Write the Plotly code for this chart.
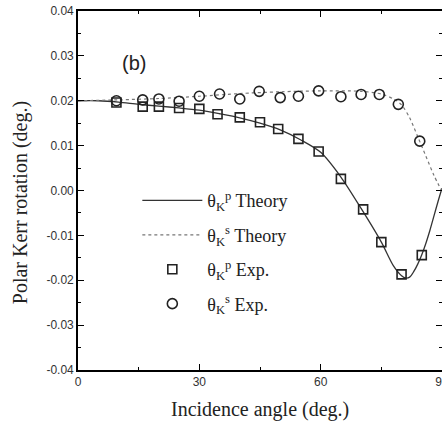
import plotly.graph_objects as go

# Experimental data (incidence angle in deg., Kerr rotation in deg.)
p_exp_angle = [9.5, 16, 20, 25, 30, 34.5, 40, 45, 49.5, 54.5, 59.5, 65, 70.5, 75, 80, 85]
p_exp_rot = [0.0196, 0.0187, 0.0187, 0.0184, 0.0182, 0.0170, 0.0163, 0.0152, 0.0137,
             0.0115, 0.0087, 0.0026, -0.0042, -0.0115, -0.0187, -0.0144]

s_exp_angle = [9.5, 16, 20, 25, 30, 35, 40, 44.8, 50, 54.5, 59.5, 65, 70, 74.5, 79.2, 84.5]
s_exp_rot = [0.0200, 0.0202, 0.0204, 0.0199, 0.0210, 0.0215, 0.0204, 0.0221, 0.0207,
             0.0210, 0.0222, 0.0209, 0.0214, 0.0214, 0.0192, 0.0110]

# Theory curves
p_th_angle = [0, 5, 10, 15, 20, 25, 30, 35, 40, 45, 50, 55, 60, 65, 70, 75, 78, 80, 81, 82, 83, 84, 85, 86, 87, 88, 89, 90]
p_th_rot = [0.0200, 0.0200, 0.0197, 0.0192, 0.0188, 0.0184, 0.0179, 0.0171, 0.0162, 0.0150,
            0.0135, 0.0113, 0.0085, 0.0030, -0.0040, -0.0115, -0.0168, -0.0190, -0.0195, -0.0193,
            -0.0181, -0.0164, -0.0143, -0.0118, -0.0089, -0.0057, -0.0025, 0.0005]

s_th_angle = [0, 10, 20, 30, 40, 50, 60, 70, 75, 78, 80, 82, 84, 86, 88, 90]
s_th_rot = [0.0200, 0.0202, 0.0205, 0.0210, 0.0216, 0.0220, 0.0222, 0.0221, 0.0215, 0.0204,
            0.0191, 0.0162, 0.0120, 0.0077, 0.0034, -0.0002]

x_tick_vals = [0, 30, 60, 90]
x_tick_text = ["0", "30", "60", "90"]
y_tick_vals = [-0.04, -0.03, -0.02, -0.01, 0.00, 0.01, 0.02, 0.03, 0.04]
y_tick_text = ["-0.04", "-0.03", "-0.02", "-0.01", "0.00", "0.01", "0.02", "0.03", "0.04"]

lab_p = "θ<sub>K</sub><sup>p</sup>"
lab_s = "θ<sub>K</sub><sup>s</sup>"

fig = go.Figure()
fig.add_trace(go.Scatter(x=p_th_angle, y=p_th_rot, mode="lines", name=lab_p + " Theory",
                         line=dict(color="#333333", width=1.3, shape="spline", smoothing=0.8),
                         legendgroup="a"))
fig.add_trace(go.Scatter(x=s_th_angle, y=s_th_rot, mode="lines", name=lab_s + " Theory",
                         line=dict(color="#777777", width=1.2, dash="dot", shape="spline", smoothing=0.8),
                         legendgroup="b"))
fig.add_trace(go.Scatter(x=p_exp_angle, y=p_exp_rot, mode="markers", name=lab_p + " Exp.",
                         marker=dict(symbol="square-open", size=9, color="#222222", line=dict(width=1.6)),
                         legendgroup="c"))
fig.add_trace(go.Scatter(x=s_exp_angle, y=s_exp_rot, mode="markers", name=lab_s + " Exp.",
                         marker=dict(symbol="circle-open", size=10, color="#222222", line=dict(width=1.6)),
                         legendgroup="d"))

fig.update_layout(
    width=442, height=425,
    margin=dict(l=78, r=0, t=11, b=55, autoexpand=False),
    paper_bgcolor="white", plot_bgcolor="white",
    showlegend=True,
    legend=dict(x=0.163, y=0.523, xanchor="left", yanchor="top",
                font=dict(family="Liberation Serif", size=18, color="#222222"),
                bgcolor="rgba(0,0,0,0)", tracegroupgap=8, itemwidth=60),
    font=dict(family="Liberation Sans", color="#222222"),
    xaxis=dict(range=[0, 90], tickvals=x_tick_vals, ticktext=x_tick_text,
               ticks="inside", ticklen=6, tickwidth=1.2, tickcolor="black",
               minor=dict(dtick=15, ticks="inside", ticklen=3, tickcolor="black"),
               showline=True, linecolor="black", linewidth=1.6, mirror="ticks",
               showgrid=False, zeroline=False, automargin=False, ticklabeloverflow="allow",
               tickfont=dict(family="Liberation Sans", size=12, color="#333333")),
    yaxis=dict(range=[-0.04, 0.04], tickvals=y_tick_vals, ticktext=y_tick_text,
               ticks="inside", ticklen=6, tickwidth=1.2, tickcolor="black",
               minor=dict(dtick=0.005, ticks="inside", ticklen=3, tickcolor="black"),
               showline=True, linecolor="black", linewidth=1.6, mirror="ticks",
               showgrid=False, zeroline=False, automargin=False, ticklabeloverflow="allow",
               tickfont=dict(family="Liberation Sans", size=12, color="#333333")),
    annotations=[
        dict(text="Polar Kerr rotation (deg.)", textangle=-90, xref="paper", yref="paper",
             x=-0.159, y=0.465, xanchor="center", yanchor="middle", showarrow=False,
             font=dict(family="Liberation Serif", size=20, color="#222222")),
        dict(text="Incidence angle (deg.)", xref="paper", yref="paper",
             x=0.5, y=-0.111, xanchor="center", yanchor="middle", showarrow=False,
             font=dict(family="Liberation Serif", size=20, color="#222222")),
        dict(text="(b)", xref="x", yref="y", x=13.8, y=0.0285, xanchor="center", yanchor="middle",
             showarrow=False, font=dict(family="Liberation Sans", size=20, color="#222222")),
    ],
)

# remove the default page margin so the figure fills the window exactly
fig.write_html("out.html", config={"displayModeBar": False},
               post_script="document.body.style.margin='0';document.body.style.overflow='hidden';")
